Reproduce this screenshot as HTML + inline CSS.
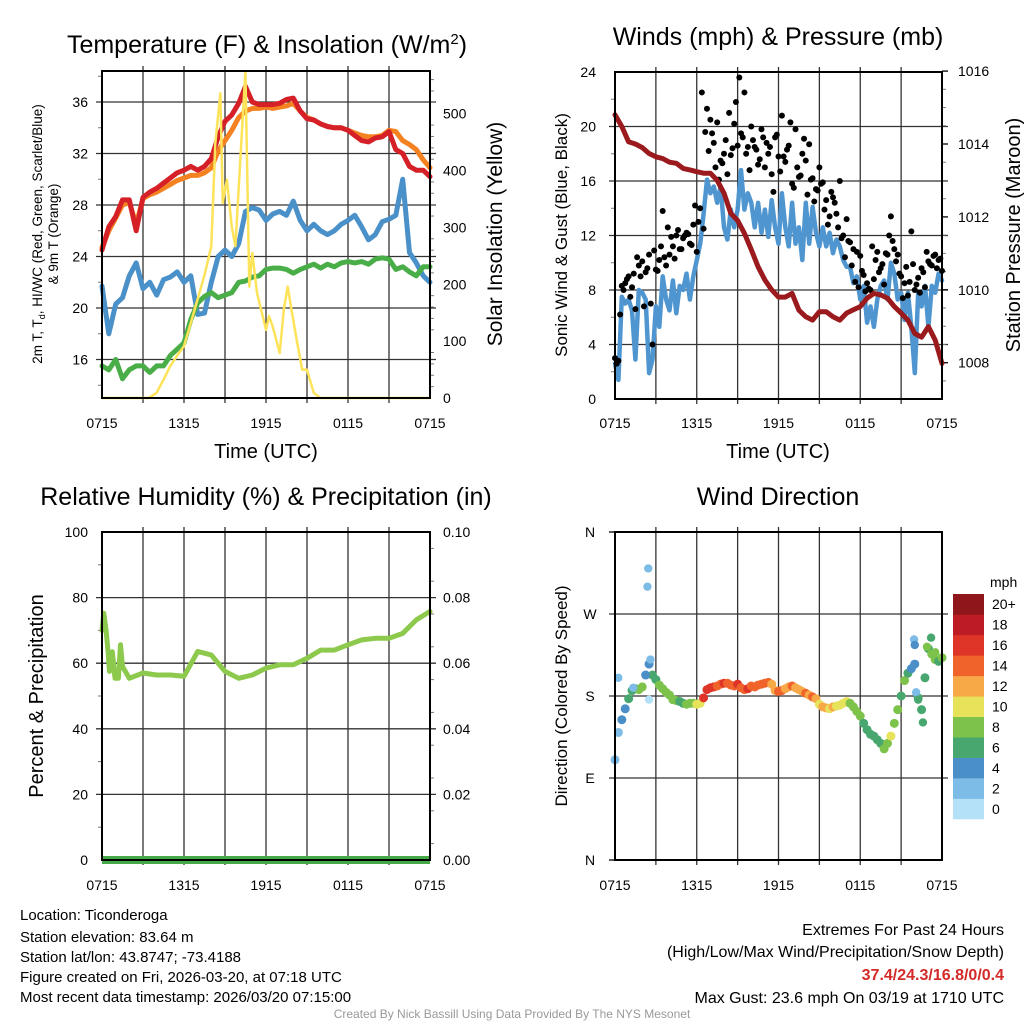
<!DOCTYPE html>
<html><head><meta charset="utf-8">
<style>
html,body{margin:0;padding:0;background:#fff;}
svg{display:block;font-family:"Liberation Sans",sans-serif;}
</style></head>
<body>
<svg id="chart" width="1024" height="1024" viewBox="0 0 1024 1024" xmlns="http://www.w3.org/2000/svg">
<rect x="0" y="0" width="1024" height="1024" fill="#fff"/>
<!-- titles -->
<text x="267" y="53" font-size="25" text-anchor="middle">Temperature (F) &amp; Insolation (W/m<tspan dy="-9" font-size="15">2</tspan><tspan dy="9">)</tspan></text>
<text x="778" y="45" font-size="25" text-anchor="middle">Winds (mph) &amp; Pressure (mb)</text>
<text x="266" y="505" font-size="25" text-anchor="middle">Relative Humidity (%) &amp; Precipitation (in)</text>
<text x="778" y="505" font-size="25" text-anchor="middle">Wind Direction</text>
<!-- axis titles -->
<text x="266" y="458" font-size="20" text-anchor="middle">Time (UTC)</text>
<text x="778" y="458" font-size="20" text-anchor="middle">Time (UTC)</text>
<text transform="translate(42,234) rotate(-90)" font-size="13.5" text-anchor="middle">2m T, T<tspan dy="3" font-size="9">d</tspan><tspan dy="-3">, HI/WC (Red, Green, Scarlet/Blue)</tspan></text>
<text transform="translate(58,234) rotate(-90)" font-size="13.5" text-anchor="middle">&amp; 9m T (Orange)</text>
<text transform="translate(502,234) rotate(-90)" font-size="21" text-anchor="middle">Solar Insolation (Yellow)</text>
<text transform="translate(567,235) rotate(-90)" font-size="17" text-anchor="middle">Sonic Wind &amp; Gust (Blue, Black)</text>
<text transform="translate(1020,235) rotate(-90)" font-size="20" text-anchor="middle">Station Pressure (Maroon)</text>
<text transform="translate(43,696) rotate(-90)" font-size="20" text-anchor="middle">Percent &amp; Precipitation</text>
<text transform="translate(567,696) rotate(-90)" font-size="17" text-anchor="middle">Direction (Colored By Speed)</text>
<!-- footer text -->
<g font-size="15" fill="#000">
<text x="20" y="920">Location: Ticonderoga</text>
<text x="20" y="942">Station elevation: 83.64 m</text>
<text x="20" y="962">Station lat/lon: 43.8747; -73.4188</text>
<text x="20" y="982">Figure created on Fri, 2026-03-20, at 07:18 UTC</text>
<text x="20" y="1002">Most recent data timestamp: 2026/03/20 07:15:00</text>
</g>
<g font-size="16" text-anchor="end">
<text x="1004" y="935">Extremes For Past 24 Hours</text>
<text x="1004" y="957">(High/Low/Max Wind/Precipitation/Snow Depth)</text>
<text x="1004" y="980" fill="#d42a2a" font-weight="bold">37.4/24.3/16.8/0/0.4</text>
<text x="1004" y="1003">Max Gust: 23.6 mph On 03/19 at 1710 UTC</text>
</g>
<text x="512" y="1018" font-size="12" fill="#999" text-anchor="middle">Created By Nick Bassill Using Data Provided By The NYS Mesonet</text>
<g id="layer"></g>
</svg>
<script>
// ---------- data ----------
const timeLabels = ["0715","1315","1915","0115","0715"];
const tempTicks = [16,20,24,28,32,36];
const insTicks = [0,100,200,300,400,500];
const windTicks = [0,4,8,12,16,20,24];
const presTicks = [1008,1010,1012,1014,1016];
const rhTicks = [0,20,40,60,80,100];
const precipTicks = ["0.00","0.02","0.04","0.06","0.08","0.10"];
const dirLabels = ["N","E","S","W","N"];
const speedBins = ["0","2","4","6","8","10","12","14","16","18","20+"];
const speedColors = ["#b4e1f8","#7dbce6","#4a8fc7","#47a76e","#7dc24a","#e6e25a","#f7a847","#f0632a","#de3528","#bd1c25","#8f161a"];

const temp2m = [24.5,26.3,27.1,28.4,28.4,26.0,28.6,29.0,29.3,29.7,30.1,30.5,30.7,31.0,30.7,31.0,31.6,33.3,34.5,35.0,35.9,37.2,36.0,35.8,35.8,35.8,35.9,36.2,36.3,35.3,34.7,34.6,34.3,34.1,34.0,34.0,33.8,33.4,33.0,32.9,33.2,33.3,33.7,32.3,32.0,31.0,30.7,30.7,30.2];
const temp9m = [24.7,26.0,27.0,28.0,28.2,26.5,28.5,28.8,29.0,29.3,29.6,29.9,30.1,30.3,30.3,30.5,30.9,32.2,33.0,33.8,34.8,35.3,35.5,35.5,35.6,35.5,35.6,35.7,35.9,35.3,34.8,34.6,34.3,34.1,34.0,34.0,33.8,33.6,33.4,33.3,33.3,33.4,33.8,33.7,33.0,32.7,32.3,31.5,30.9];
const dewpoint = [21.7,18.0,20.3,20.8,22.5,23.5,21.5,22.0,21.0,22.2,22.4,22.8,22.0,22.5,19.5,19.6,22.0,24.0,24.5,24.0,25.0,27.5,27.8,27.6,26.8,27.3,27.5,27.2,28.3,26.8,26.0,26.5,26.0,25.7,26.0,26.5,26.8,27.2,26.3,25.3,25.7,26.7,26.9,27.2,30.0,24.3,23.5,22.5,22.0];
const heatIndex = [15.5,15.2,16.0,14.5,15.2,15.5,15.5,15.0,15.5,15.5,16.3,16.8,17.3,19.1,20.4,20.9,21.2,20.8,21.0,21.2,22.0,22.1,22.4,22.5,23.0,23.1,23.1,23.0,22.7,23.0,23.2,23.4,23.1,23.4,23.2,23.5,23.6,23.5,23.6,23.4,23.8,23.9,23.8,23.0,23.2,22.8,22.5,23.2,23.2];
const insTimes = [0,3.4,3.99,4.5,4.99,5.5,5.99,6.5,6.99,7.48,8.0,8.29,8.66,8.83,9.14,9.49,9.76,10.12,10.49,10.61,10.78,11.0,11.34,11.71,12.0,12.22,12.49,13.0,13.3,13.59,13.91,14.28,14.65,14.99,15.5,15.99,24];
const insValues = [0,0,9,32,56,75,91,132,173,214,267,448,536,343,384,302,267,419,574,420,196,255,185,149,120,144,126,79,155,196,149,97,50,50,9,0,0];
const windSpeed = [2.6,1.4,7.5,7.0,7.3,6.5,2.9,8.0,7.8,7.3,1.9,2.9,6.8,5.3,9.0,7.3,6.5,8.7,6.3,8.3,8.0,9.2,7.3,9.0,10.2,11.4,13.6,16.1,15.1,15.6,14.4,15.6,12.6,11.7,13.9,12.6,13.9,16.8,13.9,15.1,14.4,12.6,14.4,12.2,13.9,11.9,14.6,12.6,11.4,15.1,12.6,11.2,14.4,11.4,12.6,10.2,14.4,11.4,14.1,12.2,11.2,12.6,11.2,12.2,10.7,11.7,11.2,10.2,9.7,9.7,8.5,9.0,7.3,8.3,5.6,6.8,5.3,7.3,8.3,8.7,7.3,10.0,9.2,7.3,7.8,5.8,7.8,5.3,1.9,7.8,6.8,8.3,5.3,8.3,7.8,9.2,8.7];
const gustA = [3.0,2.8,8.3,8.5,9.0,8.2,6.6,9.8,10.1,9.3,10.6,4.0,9.5,10.2,13.8,9.8,10.6,11.2,12.0,11.0,11.8,12.2,11.4,12.8,10.8,14.0,12.5,21.3,20.5,18.8,20.3,17.5,18.0,16.5,17.9,20.2,18.6,19.5,22.5,18.5,20.0,18.5,17.2,19.8,17.0,18.0,16.5,19.2,17.8,20.8,17.4,18.6,15.8,19.8,16.3,18.0,17.5,18.7,16.2,15.4,17.0,15.9,14.6,13.4,14.8,13.6,16.0,12.0,13.2,11.5,11.0,10.8,10.5,9.1,8.5,8.0,8.8,10.8,9.6,8.4,10.6,13.4,11.0,10.6,9.0,8.5,7.6,12.3,8.0,8.9,9.6,8.2,10.1,9.8,10.6,10.2,9.4];
const gustB = [2.6,6.2,8.0,8.8,7.5,9.2,10.4,9.0,6.8,9.6,7.0,10.9,9.4,11.2,10.4,12.6,11.9,10.3,12.4,11.0,12.0,12.1,11.3,14.2,13.0,22.5,19.6,18.2,19.5,17.0,16.1,17.3,19.0,21.0,18.4,21.8,23.6,19.2,18.0,16.8,19.0,18.3,17.6,19.2,18.8,18.5,15.2,19.4,16.7,17.8,18.3,20.3,15.5,17.0,16.4,19.1,15.0,16.1,14.5,15.3,15.8,13.9,12.8,15.2,14.4,12.6,11.8,10.4,11.6,9.8,8.6,8.2,9.4,7.9,8.1,11.2,10.2,9.3,9.9,10.7,12.0,11.6,10.1,9.2,7.4,9.7,8.6,9.9,8.4,7.8,9.3,10.8,9.9,10.5,9.6,10.3];
const pressure = [1014.8,1014.48,1014.06,1014.0,1013.9,1013.74,1013.65,1013.6,1013.5,1013.47,1013.33,1013.29,1013.24,1013.2,1013.2,1013.0,1012.65,1012.1,1011.9,1011.55,1011.1,1010.63,1010.27,1010.0,1009.8,1009.8,1009.9,1009.44,1009.26,1009.17,1009.4,1009.4,1009.26,1009.17,1009.36,1009.45,1009.54,1009.77,1009.9,1009.86,1009.77,1009.54,1009.36,1009.17,1008.8,1008.7,1008.99,1008.62,1007.98];
const relHumidity = [68,57.5,55.4,57,56.4,56.4,56,63.6,62.5,57.5,55.4,56.4,58.5,59.5,59.5,61.5,64,64,65.6,67.1,67.6,67.6,69.1,73.2,75.8];
const rhEarlyTimes = [0,0.13,0.3,0.45,0.55,0.65,0.75,0.95,1.2,1.35,1.5];
const rhEarlyValues = [70,75.2,70,63,57.5,61.5,63.5,55.4,55.4,65.6,59];
const precip = [0,0,0,0,0,0,0,0,0,0,0,0,0,0,0,0,0,0,0,0,0,0,0,0,0];
const windDir = [110,140,154,166,177,186,188,187,190,203,215,203,198,192,188,184,181,176,175,174,172,171,172,172,171,172,178,187,189,190,191,193,194,194,192,191,193,189,187,188,191,190,192,193,194,195,193,186,185,186,188,190,191,189,187,185,183,181,179,177,171,168,167,166,168,169,170,172,174,172,168,163,158,150,143,138,136,132,128,122,128,136,150,165,180,197,205,210,215,178,165,200,232,226,220,218,222];
const dirSpeed = [2.5,3,5,4.5,6,6.5,7,8,8.5,4.5,5,6.5,7,8,8.5,8,8.5,9,8,7,7.5,8,8,9,10.5,10.5,16,17,16.5,17,15,14.5,16,15,14.5,15,16.5,15,14.5,16,15.5,14.5,15,14,15.5,14,12,13,15,14.5,13,12.5,14,13,12,13,14,13,14.5,12.5,11.5,12,12.5,11.5,12,10.5,11,10.5,10,9,8.5,8,8.5,7,6.5,6,7,6.5,6,8,8.5,10,9,8,7,9,6,5.5,4.5,6,6.5,7,6.5,8,8,6.5,8.5];
const extraDirTimes = [0.24,1.34,2.25,2.38,2.44,2.5,2.6,21.95,22.0,22.1,22.25,22.6,22.9,23.2,23.5];
const extraDirDeg = [200,189,203,300,320,176,220,242,236,184,176,151,234,244,228];
const extraDirSpd = [3,3,4.5,3,3,0.5,3,3,4.5,3,6,7,8,6,8];

// ---------- helpers ----------
const NS = "http://www.w3.org/2000/svg";
const layer = document.getElementById('layer');
function mk(tag, attrs, parent){
  const e = document.createElementNS(NS, tag);
  for (const k in attrs) e.setAttribute(k, attrs[k]);
  (parent||layer).appendChild(e);
  return e;
}
function txt(s, x, y, size, anchor, parent){
  const t = mk('text', {x:x, y:y, 'font-size':size, 'text-anchor':anchor||'middle'}, parent);
  t.textContent = s;
  return t;
}
function line(pts, color, w, parent){
  return mk('polyline', {points: pts.map(p=>p[0].toFixed(1)+','+p[1].toFixed(1)).join(' '), fill:'none', stroke:color, 'stroke-width':w, 'stroke-linejoin':'round', 'stroke-linecap':'round'}, parent);
}
function seriesPts(arr, xf, yf){ const n = arr.length; return arr.map((v,i)=>[xf(i*24/(n-1)), yf(v)]); }

function frame(name, x0, x1, y0, y1, hYs, leftMinor, rightMinor){
  const g = mk('g', {});
  
  
  for (let i=1;i<8;i++){
    const x = x0 + (x1-x0)*i/8;
    mk('line', {x1:x, y1:y0-5, x2:x, y2:y1+5, stroke:'#333', 'stroke-width':1.3}, g);
  }
  hYs.forEach(y=>mk('line', {x1:x0-6, y1:y, x2:x1+6, y2:y, stroke:'#333', 'stroke-width':1.3}, g));
  (leftMinor||[]).forEach(y=>mk('line', {x1:x0-4, y1:y, x2:x0, y2:y, stroke:'#777', 'stroke-width':1}, g));
  (rightMinor||[]).forEach(y=>mk('line', {x1:x1, y1:y, x2:x1+4, y2:y, stroke:'#777', 'stroke-width':1}, g));
  return g;
}
function border(name, x0, x1, y0, y1){
  const r = mk('rect', {x:x0, y:y0, width:x1-x0, height:y1-y0, fill:'none', stroke:'#000', 'stroke-width':2});
  
  
}
function timeLabelsAt(name, x0, x1, y){
  const g = mk('g', {});
  
  
  timeLabels.forEach((s,i)=>txt(s, x0+(x1-x0)*i/(timeLabels.length-1), y, 14, 'middle', g));
}

// ---------- Panel 1 ----------
{
  const X0=102, X1=430, Y0=71, Y1=398;
  const xT = t => X0 + (X1-X0)*t/24;
  const yT = v => 102 + (36-v)*12.875;
  const yI = v => 398 - v*0.5686;
  const lm=[], rm=[];
  for (let v=14; v<=38; v+=2) if (v%4) lm.push(yT(v));
  for (let v=20; v<=560; v+=20) if (v%100) rm.push(yI(v));
  frame('temperature', X0, X1, Y0, Y1, tempTicks.map(yT), lm, rm);
  const ll = mk('g', {});  
  tempTicks.forEach(v=>txt(String(v), 88, yT(v)+5, 14, 'end', ll));
  const rl = mk('g', {});  
  insTicks.forEach(v=>txt(String(v), 443, yI(v)+5, 14, 'start', rl));
  timeLabelsAt('temperature', X0, X1, 428);
  const s1 = line(seriesPts(temp9m, xT, yT), '#f58220', 5);
   
  const s2 = line(seriesPts(temp2m, xT, yT), '#d52027', 5);
   
  const s3 = line(seriesPts(dewpoint, xT, yT), '#4a90c9', 5);
   
  const s4 = line(seriesPts(heatIndex, xT, yT), '#4aae48', 5);
   
  const s5 = line(insTimes.map((t,i)=>[xT(t), yI(insValues[i])]), '#fde35a', 2.5);
   
  border('temperature', X0, X1, Y0, Y1);
}

// ---------- Panel 2 ----------
{
  const X0=615, X1=942, Y0=72, Y1=399;
  const xT = t => X0 + (X1-X0)*t/24;
  const yW = v => 399 - v*13.625;
  const yP = p => 144 + (1014-p)*36.45;
  const lm=[], rm=[];
  for (let v=2; v<24; v+=4) lm.push(yW(v));
  for (let p=1007.5; p<=1016; p+=0.5) if (p%2) rm.push(yP(p));
  frame('winds', X0, X1, Y0, Y1, windTicks.filter(v=>v>0&&v<24).map(yW), lm, rm);
  const ll = mk('g', {});  
  windTicks.forEach(v=>txt(String(v), 596, yW(v)+5, 14, 'end', ll));
  const rl = mk('g', {});  
  presTicks.forEach(v=>txt(String(v), 958, yP(v)+5, 14, 'start', rl));
  presTicks.forEach(v=>mk('line',{x1:X1, y1:yP(v), x2:X1+6, y2:yP(v), stroke:'#000','stroke-width':1.3}));
  timeLabelsAt('winds', X0, X1, 428);
  const w = line(seriesPts(windSpeed, xT, yW), '#4f96d0', 4.5);
   
  const gg = mk('g', {});  
  gustA.forEach((v,i)=>{ const c = mk('circle', {cx:xT(i*0.25), cy:yW(v), r:3, fill:'#000'}, gg);
      });
  gustB.forEach((v,i)=>{ const t=i*0.25+0.125; if (t>24) return; const c = mk('circle', {cx:xT(t), cy:yW(v), r:3, fill:'#000'}, gg);
      });
  const p = line(seriesPts(pressure, xT, yP), '#9a1a1d', 5);
   
  border('winds', X0, X1, Y0, Y1);
}

// ---------- Panel 3 ----------
{
  const X0=102, X1=430, Y0=532, Y1=860;
  const xT = t => X0 + (X1-X0)*t/24;
  const yR = v => 860 - v*3.28;
  const yPr = v => 860 - v*3280;
  const lm=[], rm=[];
  for (let v=10; v<100; v+=20) lm.push(yR(v));
  for (let v=0.005; v<0.1; v+=0.01) rm.push(yPr(v));
  frame('humidity', X0, X1, Y0, Y1, rhTicks.filter(v=>v>0&&v<100).map(yR), lm, rm);
  const ll = mk('g', {});  
  rhTicks.forEach(v=>txt(String(v), 88, yR(v)+5, 14, 'end', ll));
  const rl = mk('g', {});  
  precipTicks.forEach((s,i)=>txt(s, 443, yPr(i*0.02)+5, 14, 'start', rl));
  timeLabelsAt('humidity', X0, X1, 890);
  const pts = rhEarlyTimes.map((t,i)=>[xT(t), yR(rhEarlyValues[i])]);
  const n = relHumidity.length;
  relHumidity.forEach((v,i)=>{ const t=i*24/(n-1); if (t>1.5) pts.push([xT(t), yR(v)]); });
  const r = line(pts, '#8dc94c', 5);
   
  const pr = line(seriesPts(precip, xT, yPr), '#45a948', 8);
  pr.setAttribute('stroke-linecap','butt');
   
  border('humidity', X0, X1, Y0, Y1);
}

// ---------- Panel 4 ----------
{
  const X0=615, X1=942, Y0=532, Y1=860;
  const xT = t => X0 + (X1-X0)*t/24;
  const yD = d => 860 - d*328/360;
  frame('direction', X0, X1, Y0, Y1, [90,180,270].map(yD), [], []);
  const ll = mk('g', {});  
  dirLabels.forEach((s,i)=>txt(s, 590, yD(i*90)+5, 14, 'middle', ll));
  [0,360].forEach(d=>mk('line',{x1:X0-6,y1:yD(d),x2:X0,y2:yD(d),stroke:'#000','stroke-width':1.3}));
  timeLabelsAt('direction', X0, X1, 890);
  const col = s => speedColors[Math.max(0, Math.min(10, Math.floor(s/2)))];
  const dg = mk('g', {});  
  windDir.forEach((d,i)=>{ const t=i*24/(windDir.length-1);
    const c = mk('circle', {cx:xT(t), cy:yD(d), r:4.5, fill:col(dirSpeed[i])}, dg);
      });
  extraDirTimes.forEach((t,i)=>{
    const c = mk('circle', {cx:xT(t), cy:yD(extraDirDeg[i]), r:4.2, fill:col(extraDirSpd[i])}, dg);
      });
  border('direction', X0, X1, Y0, Y1);
  const cb = mk('g', {});  
  const CB0=594, CB1=819, bh=(CB1-CB0)/speedColors.length;
  speedColors.forEach((c,i)=>{
    const r = mk('rect', {x:953, y:CB1-(i+1)*bh, width:31, height:bh+0.3, fill:c}, cb);
     
  });
  speedBins.forEach((s,i)=>{ const y = CB1-(i+0.5)*bh;
    txt(s, 992, y+5, 14, 'start', cb);
  });
  const u = txt('mph', 990, 587, 14, 'start', cb);
   
}
</script>
</body></html>
